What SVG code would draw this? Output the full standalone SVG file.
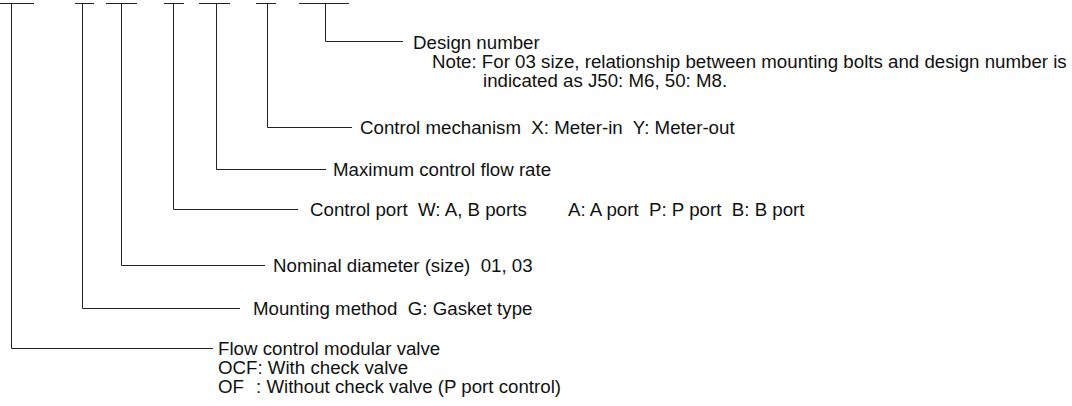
<svg xmlns="http://www.w3.org/2000/svg" width="1072" height="406" viewBox="0 0 1072 406">
<style>
.ln{fill:none;stroke:#222;stroke-width:1}
text{font-family:"Liberation Sans",Arial,sans-serif;font-size:18.7px;fill:#111;white-space:pre}
</style>
<rect width="1072" height="406" fill="#fff"/>
<g id="connectors">
<path class="ln" d="M0 3.5H34M11.5 3.5V348.5H213"/>
<path class="ln" d="M75 3.5H94M82.5 3.5V308.5H240"/>
<path class="ln" d="M106 3.5H137M121.5 3.5V265.5H265"/>
<path class="ln" d="M164 3.5H184M173.5 3.5V209.5H298"/>
<path class="ln" d="M199 3.5H230M216.5 3.5V169.5H326"/>
<path class="ln" d="M256 3.5H276M267.5 3.5V127.5H352"/>
<path class="ln" d="M299 3.5H349M325.5 3.5V41.5H403"/>
</g>
<g id="design-number">
<text x="413" y="48.5">Design number</text>
<text x="432" y="67.5">Note: For 03 size, relationship between mounting bolts and design number is</text>
<text x="483" y="87">indicated as J50: M6, 50: M8.</text>
</g>
<g id="control-mechanism"><text x="360" y="133.5">Control mechanism  X: Meter-in  Y: Meter-out</text></g>
<g id="max-flow"><text x="333" y="175.5">Maximum control flow rate</text></g>
<g id="control-port"><text x="310" y="216">Control port  W: A, B ports</text><text x="568" y="216">A: A port  P: P port  B: B port</text></g>
<g id="nominal-diameter"><text x="273" y="272">Nominal diameter (size)  01, 03</text></g>
<g id="mounting-method"><text x="253" y="315">Mounting method  G: Gasket type</text></g>
<g id="flow-control">
<text x="218" y="355">Flow control modular valve</text>
<text x="218" y="374">OCF: With check valve</text>
<text x="218" y="393">OF</text><text x="256" y="393">: Without check valve (P port control)</text>
</g>
</svg>
